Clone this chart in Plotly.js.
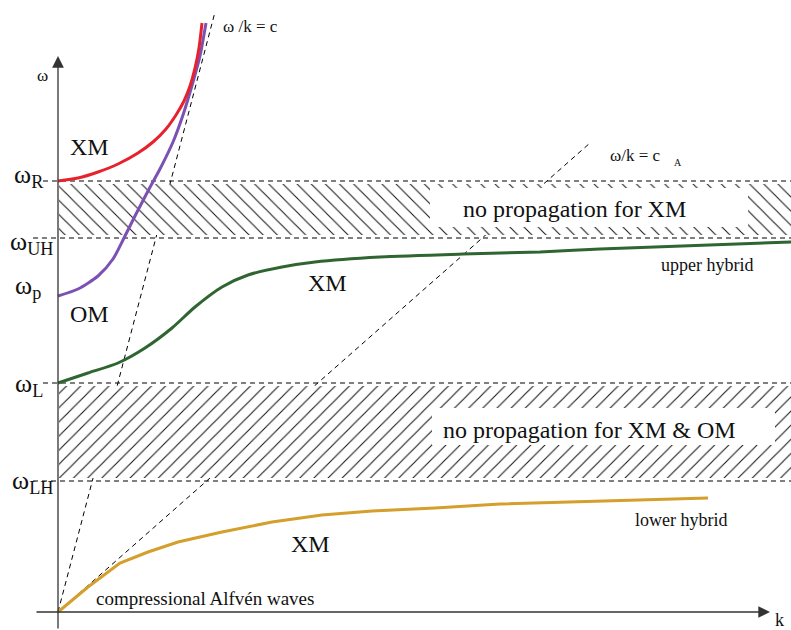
<!DOCTYPE html>
<html>
<head>
<meta charset="utf-8">
<script src="https://cdn.plot.ly/plotly-3.0.1.min.js"></script>
<style>html,body{margin:0;padding:0;background:#fff;}#chart{width:791px;height:630px;}</style>
</head>
<body>
<div id="chart"></div>
<script>
// Characteristic frequencies (omega units of the sketch)
const levelNames = ['ω_R', 'ω_UH', 'ω_p', 'ω_L', 'ω_LH'];
const levelValues = [431, 374, 316, 229, 131];
const wR = levelValues[0], wUH = levelValues[1], wL = levelValues[3], wLH = levelValues[4];
const kMax = 733;

// XM upper branch (red)
const redK = [0, 20, 40, 60, 80, 95, 108, 118, 126, 132, 137, 141, 144];
const redW = [431, 434, 440, 448, 459, 470, 483, 497, 511, 526, 544, 564, 589];
// OM branch (purple)
const purpleK = [0, 20, 40, 55, 65, 77, 90, 103, 115, 125, 135, 142, 148];
const purpleW = [316, 323, 336, 353, 372, 396, 421, 445, 470, 497, 530, 556, 589];
// XM middle branch -> upper hybrid (green)
const greenK = [0, 30, 60, 87, 114, 137, 164, 190, 224, 257, 322, 405, 482, 542, 733];
const greenW = [229, 239, 249, 264, 284, 305, 325, 337, 345, 350, 355, 358, 360, 363, 370];
// XM lower branch: compressional Alfvén -> lower hybrid (gold)
const goldK = [0, 30, 62, 90, 120, 164, 214, 264, 314, 377, 442, 542, 650];
const goldW = [0, 25, 49, 60, 70, 80, 90, 97, 101, 104, 108, 111, 114];
// Phase-velocity reference lines
const lightK = [0, 157], lightW = [0, 600];     // ω/k = c
const alfvenK = [0, 532], alfvenW = [0, 469];   // ω/k = c_A

const serif = 'Liberation Serif, Times New Roman, serif';
const traces = [];

function dashed(xs, ys) {
  traces.push({x: xs, y: ys, mode: 'lines', type: 'scatter', hoverinfo: 'skip',
    line: {color: '#000', width: 1, dash: '5px,4px'}, showlegend: false});
}
dashed(lightK, lightW);
dashed(alfvenK, alfvenW);

function band(top, bottom, shape) {
  traces.push({x: [1, kMax, kMax, 1, 1], y: [top - 3, top - 3, bottom + 3, bottom + 3, top - 3],
    type: 'scatter', mode: 'lines', fill: 'toself', fillcolor: 'white', hoverinfo: 'skip',
    line: {width: 0, color: 'rgba(0,0,0,0)'}, showlegend: false,
    fillpattern: {shape: shape, size: 10, solidity: 0.1, fgcolor: '#111', bgcolor: 'white'}});
}
band(wR, wUH, '\\');
band(wL, wLH, '/');

// horizontal boundaries
dashed([-15, kMax], [wR, wR]);
dashed([-25, kMax], [wUH, wUH]);
dashed([-15, kMax], [wL, wL]);
dashed([-25, kMax], [wLH, wLH]);

function curve(xs, ys, color, shape) {
  traces.push({x: xs, y: ys, mode: 'lines', type: 'scatter', hoverinfo: 'skip', showlegend: false,
    line: {color: color, width: 3, shape: shape, smoothing: 0.7}});
}
curve(greenK, greenW, '#2f6530', 'spline');
curve(goldK, goldW, '#d49f2c', 'linear');
curve(purpleK, purpleW, '#7b52b3', 'spline');
curve(redK, redW, '#e6232c', 'spline');

function txt(x, y, t, size, xanchor) {
  return {x: x, y: y, text: t, showarrow: false, xanchor: xanchor || 'center', yanchor: 'middle',
    font: {family: serif, size: size, color: '#111'}};
}
const annotations = [
  // axes with arrows
  {x: 712, y: 0, ax: -23, ay: 0, axref: 'x', ayref: 'y', text: '', showarrow: true,
   arrowhead: 2, arrowsize: 1.8, arrowwidth: 1.3, arrowcolor: '#333', standoff: 0},
  {x: 0, y: 556, ax: 0, ay: -18, axref: 'x', ayref: 'y', text: '', showarrow: true,
   arrowhead: 2, arrowsize: 1.8, arrowwidth: 1.3, arrowcolor: '#333', standoff: 0},
  // level labels
  txt(-46, 436, 'ω<sub>R</sub>', 26, 'left'),
  txt(-50, 369, 'ω<sub>UH</sub>', 26, 'left'),
  txt(-45, 325, 'ω<sub>p</sub>', 26, 'left'),
  txt(-45, 227, 'ω<sub>L</sub>', 26, 'left'),
  txt(-48, 130, 'ω<sub>LH</sub>', 26, 'left'),
  txt(-16, 537, 'ω', 17),
  txt(721, -8, 'k', 18),
  // branch labels
  txt(31, 465, 'XM', 24),
  txt(31, 298, 'OM', 24),
  txt(269, 329, 'XM', 24),
  txt(252, 68, 'XM', 24),
  txt(192, 586, 'ω /k = c', 17),
  txt(577, 457, 'ω/k = c', 17),
  txt(620, 450, 'A', 10),
  txt(649, 347, 'upper hybrid', 18),
  txt(623, 92, 'lower hybrid', 18),
  txt(147, 14, 'compressional Alfvén waves', 19),
  txt(516, 403, 'no propagation for XM', 24),
  txt(531, 182, 'no propagation for XM &amp; OM', 24)
];

const shapes = [
  {type: 'rect', xref: 'x', yref: 'y', x0: 372, x1: 690, y0: 385, y1: 424,
   fillcolor: 'white', line: {width: 0}, layer: 'above'},
  {type: 'rect', xref: 'x', yref: 'y', x0: 374, x1: 717, y0: 167, y1: 204,
   fillcolor: 'white', line: {width: 0}, layer: 'above'}
];

const layout = {
  width: 791, height: 630,
  margin: {l: 0, r: 0, t: 0, b: 0},
  paper_bgcolor: 'white', plot_bgcolor: 'white',
  xaxis: {range: [-58, 733], visible: false, fixedrange: true},
  yaxis: {range: [-18, 612], visible: false, fixedrange: true},
  showlegend: false,
  annotations: annotations,
  shapes: shapes
};
Plotly.newPlot('chart', traces, layout, {staticPlot: true});
</script>
</body>
</html>
